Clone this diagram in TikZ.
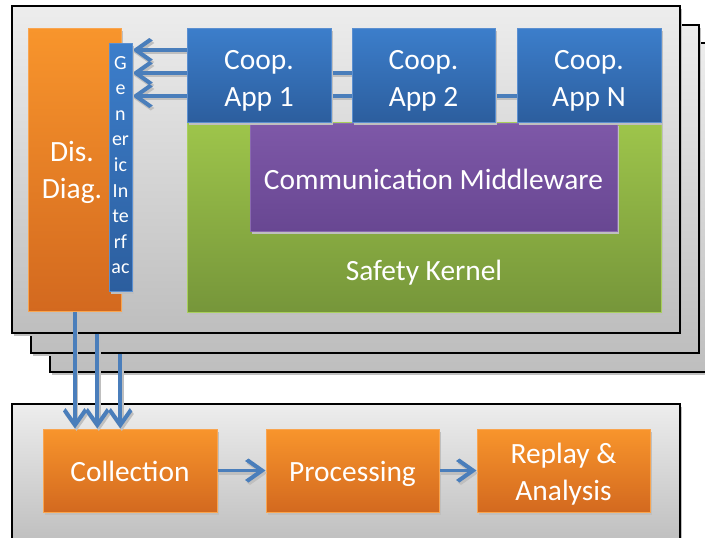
\documentclass[tikz,border=0pt]{standalone}
\usepackage{fontspec}
\setmainfont{Carlito}
\usetikzlibrary{arrows.meta,shadows}
\definecolor{pTop}{HTML}{EDEDED}
\definecolor{pBot}{HTML}{BEBEBE}
\definecolor{oTop}{HTML}{F8952C}
\definecolor{oBot}{HTML}{D3691F}
\definecolor{oBrd}{HTML}{F9A550}
\definecolor{bTop}{HTML}{3C7ECB}
\definecolor{bBot}{HTML}{2C5E9E}
\definecolor{bBrd}{HTML}{5B8FD0}
\definecolor{gTop}{HTML}{9EC54B}
\definecolor{gBot}{HTML}{76963A}
\definecolor{gBrd}{HTML}{A8CF5C}
\definecolor{uTop}{HTML}{7E58A8}
\definecolor{uBot}{HTML}{684792}
\definecolor{uBrd}{HTML}{8A6AB0}
\definecolor{arrC}{HTML}{4A7EBB}
\newcommand\bigfont{\fontsize{29.4}{36.5}\selectfont}
\newcommand\gifont{\fontsize{20}{25.6}\selectfont}
\pgfdeclarearrow{
  name=Chev,
  setup code={
    \pgfarrowssettipend{1.5pt}
    \pgfarrowssetlineend{-4pt}
    \pgfarrowssetvisualbackend{-19pt}
    \pgfarrowssetbackend{-19pt}
    \pgfarrowshullpoint{1.5pt}{0pt}
    \pgfarrowsupperhullpoint{-15.5pt}{12pt}
    \pgfarrowsupperhullpoint{-19pt}{9.5pt}
  },
  drawing code={
    \pgfpathmoveto{\pgfqpoint{1.5pt}{0pt}}
    \pgfpathlineto{\pgfqpoint{-15.5pt}{12pt}}
    \pgfpathlineto{\pgfqpoint{-19pt}{9.5pt}}
    \pgfpathlineto{\pgfqpoint{-5.5pt}{0pt}}
    \pgfpathlineto{\pgfqpoint{-19pt}{-9.5pt}}
    \pgfpathlineto{\pgfqpoint{-15.5pt}{-12pt}}
    \pgfpathclose
    \pgfusepathqfill
  }
}
\pgfdeclarelayer{panels}
\pgfdeclarelayer{lines}
\pgfsetlayers{panels,lines,main}
\begin{document}
\begin{tikzpicture}[x=1pt,y=-1pt,
  shad/.style={drop shadow={shadow xshift=2pt,shadow yshift=-3pt,fill=black!25,opacity=1}},
  panel/.style={draw=black,line width=1.4pt,top color=pTop,bottom color=pBot,shad,inner sep=0pt},
  colbox/.style={line width=1pt,shad,inner sep=0pt},
  obox/.style={colbox,draw=oBrd,top color=oTop,bottom color=oBot},
  bbox/.style={colbox,draw=bBrd,top color=bTop,bottom color=bBot},
  gbox/.style={colbox,draw=gBrd,top color=gTop,bottom color=gBot},
  ubox/.style={colbox,draw=uBrd,top color=uTop,bottom color=uBot},
  txt/.style={anchor=center,label distance=0pt,inner sep=0pt,text=white,font=\bigfont,align=center},
  arr/.style={draw=arrC,fill=arrC,line width=3.8pt,-{Chev}},
  arrsh/.style={draw=black!25,fill=black!25,line width=3.8pt,-{Chev},
    transform canvas={xshift=1.5pt,yshift=-2.5pt}}
]
\clip (0,0) rectangle (705,538);

\begin{pgfonlayer}{panels}
\node[panel,minimum width=668pt,minimum height=329pt] (back3) at (384,207.5) {};
\node[panel,minimum width=668pt,minimum height=328pt] (back2) at (365,189) {};
\node[panel,minimum width=668pt,minimum height=327pt] (front) at (346,169.5) {};
\node[panel,minimum width=668pt,minimum height=141pt] (bottom) at (346,474.5) {};
\end{pgfonlayer}

% top stack contents
\node[obox,minimum width=93pt,minimum height=283pt,
  label={[txt,xshift=-2.5pt,yshift=-3pt]center:{Dis.\\Diag.}}] (diag) at (74.5,169.5) {};
\node[bbox,minimum width=23pt,minimum height=248pt,line width=0.6pt,
  label={[txt,font=\gifont,yshift=2pt]center:{G\\e\\n\\er\\ic\\In\\te\\rf\\ac}}] (gi) at (120.5,167) {};
\node[gbox,minimum width=474pt,minimum height=190pt,
  label={[txt,yshift=40pt]south:Safety Kernel}] (safety) at (424,217) {};
\node[ubox,minimum width=367pt,minimum height=108pt,
  label={[txt,yshift=-2pt]center:Communication Middleware}] (mw) at (433.5,177) {};
\node[bbox,minimum width=144pt,minimum height=94pt,
  label={[txt,yshift=-6pt]center:{Coop.\\App 1}}] (app1) at (259,75) {};
\node[bbox,minimum width=143pt,minimum height=94pt,
  label={[txt,yshift=-6pt]center:{Coop.\\App 2}}] (app2) at (423.5,75) {};
\node[bbox,minimum width=144pt,minimum height=94pt,
  label={[txt,yshift=-6pt]center:{Coop.\\App N}}] (appN) at (589,75) {};

% arrows into the generic interface (behind the apps)
\coordinate (t1) at ([yshift=25pt]app1.west);
\coordinate (t2) at ([yshift=2pt]app2.west);
\coordinate (t3) at ([yshift=-21pt]appN.west);
\begin{pgfonlayer}{lines}
\foreach \s in {t1,t2,t3}{
  \draw[arrsh] (\s) -- (\s -| gi.east);
  \draw[arr] (\s) -- (\s -| gi.east);
}
\end{pgfonlayer}

% bottom chain
\node[obox,minimum width=174pt,minimum height=83pt,
  label={[txt,yshift=-1pt]center:Collection}] (coll) at (130,470.5) {};
\node[obox,minimum width=173pt,minimum height=83pt,
  label={[txt,yshift=-3pt]center:Processing}] (proc) at (352.5,470.5) {};
\node[obox,minimum width=173pt,minimum height=83pt,
  label={[txt,yshift=-3.5pt]center:{Replay \&\\Analysis}}] (replay) at (563.5,470.5) {};

\draw[arrsh] (coll.east) -- (proc.west);
\draw[arr] (coll.east) -- (proc.west);
\draw[arrsh] (proc.east) -- (replay.west);
\draw[arr] (proc.east) -- (replay.west);

% vertical arrows from the stack to the collection
\coordinate (v1) at ([xshift=0.5pt]diag.south);
\coordinate (v2) at ([xshift=86pt]front.south west);
\coordinate (v3) at ([xshift=90pt]back2.south west);
\foreach \s in {v1,v2,v3}{
  \draw[arrsh] (\s) -- (\s |- coll.north);
  \draw[arr] (\s) -- (\s |- coll.north);
}
\end{tikzpicture}
\end{document}
